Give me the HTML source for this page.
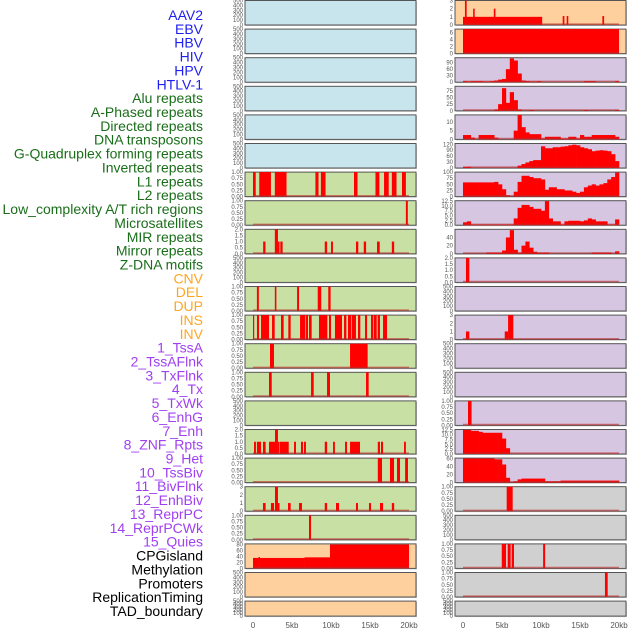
<!DOCTYPE html>
<html><head><meta charset="utf-8">
<style>
html,body{margin:0;padding:0;background:#fff;width:630px;height:630px;overflow:hidden;}
svg{display:block;font-family:"Liberation Sans",sans-serif;}
</style></head>
<body>
<svg id="chart" width="630" height="630" viewBox="0 0 630 630"></svg>
<script>
// ---- labels ----
const labels = ["AAV2","EBV","HBV","HIV","HPV","HTLV-1","Alu repeats","A-Phased repeats","Directed repeats","DNA transposons","G-Quadruplex forming repeats","Inverted repeats","L1 repeats","L2 repeats","Low_complexity A/T rich regions","Microsatellites","MIR repeats","Mirror repeats","Z-DNA motifs","CNV","DEL","DUP","INS","INV","1_TssA","2_TssAFlnk","3_TxFlnk","4_Tx","5_TxWk","6_EnhG","7_Enh","8_ZNF_Rpts","9_Het","10_TssBiv","11_BivFlnk","12_EnhBiv","13_ReprPC","14_ReprPCWk","15_Quies","CPGisland","Methylation","Promoters","ReplicationTiming","TAD_boundary"];
const labelGroups = ["v","v","v","v","v","v","r","r","r","r","r","r","r","r","r","r","r","r","r","s","s","s","s","s","c","c","c","c","c","c","c","c","c","c","c","c","c","c","c","o","o","o","o","o"];
const xTicks = [0,5,10,15,20];
const xTickLabels = ["0","5kb","10kb","15kb","20kb"];

// ---- interval series [startKb, endKb, value] ----
const L6 = [[0,0.35,1],[0.8,2.3,1],[2.8,4.3,1],[8.0,8.4,1],[8.7,9.3,1],[12.95,13.4,1],[15.7,16.2,1],[16.8,17.4,1],[17.8,18.4,1],[19.1,19.6,1]];
const L7 = [[19.6,19.85,1]];
const L8 = [[1.3,1.6,1],[2.8,3.2,2],[3.2,3.4,1],[3.5,3.8,1],[9.2,9.5,1],[10.0,10.25,1],[13.2,13.5,1],[14.2,14.5,1],[15.9,16.25,1],[17.8,18.1,1]];
const L10 = [[0.5,0.75,1],[2.8,3.0,1],[5.65,5.9,1],[8.3,8.75,1],[9.65,9.95,1]];
const L11 = [[0,0.13,1],[0.51,0.77,1],[1.03,2.05,1],[2.44,2.78,1],[3.59,3.93,1],[4.53,4.83,1],[6.03,6.71,1],[6.79,7.05,1],[7.18,7.52,1],[8.46,9.53,1],[9.74,10.0,1],[10.51,11.41,1],[11.67,11.97,1],[12.18,12.61,1],[12.69,13.2,1],[13.46,13.76,1],[14.36,14.62,1],[15.13,15.43,1],[15.51,15.86,1],[15.98,16.28,1],[16.67,17.18,1]];
const L12 = [[2.18,2.69,1],[12.44,14.7,1]];
const L13 = [[2.05,2.4,1],[7.44,7.78,1],[9.49,9.87,1],[14.49,14.83,1]];
const L15 = [[0.13,0.38,1],[0.5,1.03,1],[1.28,1.62,1],[2.05,2.82,1],[2.82,3.2,2],[3.2,3.4,1],[3.46,4.58,1],[5.26,5.51,1],[6.15,6.41,1],[6.54,6.79,1],[9.2,9.5,1],[10.26,10.5,1],[11.8,12.05,1],[12.44,13.72,1],[16.0,16.28,1],[16.41,16.67,1],[19.36,19.6,1]];
const L16 = [[16.0,16.54,1],[17.56,18.08,1],[18.46,18.85,1],[19.5,19.87,1]];
const L17 = [[1.28,1.62,1],[2.3,2.7,1],[2.82,3.2,3],[3.2,3.4,1],[4.49,4.83,1],[5.9,6.28,1],[9.2,9.5,1],[10.64,11.03,1],[13.2,13.46,1],[14.87,15.13,1],[16.28,16.67,1],[17.8,18.1,1]];
const L18 = [[7.18,7.44,1]];
const L19 = [[0,0.7,35],[0.7,0.9,38],[0.9,6.6,35],[6.6,9.87,37],[9.87,20,80]];
const R0 = [[0,10.15,1],[0.25,0.47,3],[1.3,1.5,2],[3.95,4.16,2],[12.78,13.0,1.1],[13.29,13.5,1.1],[17.87,18.09,1.1]];
const R1 = [[0,20,7]];
const R9 = [[0.38,0.81,2]];
const R11 = [[0.38,0.81,1],[5.35,5.78,1],[5.78,6.45,3]];
const R14 = [[0.64,1.1,1]];
const R17 = [[5.6,6.37,1]];
const R19 = [[4.97,5.52,1],[5.73,6.11,1],[6.24,6.54,1],[10.27,10.53,1]];
const R20 = [[18.2,18.55,1]];

// ---- binned profiles (0.5 kb bins, 0..20 kb) ----
const R2 = [5,3,5,5,5,3,3,5,8,12,15,60,110,100,40,8,5,3,3,5,0,0,0,0,0,0,0,0,0,0,0,5,5,5,0,0,0,0,0,5];
const R3 = [0,0,0,0,0,0,0,0,5,25,85,30,70,40,5,0,0,3,0,0,0,0,0,0,0,0,0,0,0,0,0,3,0,0,0,0,0,0,0,3];
const R4 = [2.5,2.5,1,0,2.5,2.5,2.5,2.5,1,0,0,0,0,5,14,7,4,3,3,3,0.5,1.5,1.5,1.5,1.5,0.5,0.5,1.5,1.5,0.5,2.5,1.5,1.5,2.5,2.5,2.5,2.5,2.5,2.5,1.5];
const R5 = [5,6,0,0,0,0,0,0,0,0,0,0,0,0,12,20,28,35,40,40,110,100,100,105,105,108,110,115,118,115,105,100,95,85,88,90,88,85,70,35];
const R6 = [58,58,58,58,58,58,58,58,60,50,30,5,0,20,60,85,85,80,75,75,70,28,38,38,30,30,25,25,20,15,20,38,45,50,45,50,55,70,80,98];
const R7 = [1.5,2,0.3,0.3,0.3,0.3,0.3,0.3,0.3,0.3,0.3,0.3,0.3,3.5,9,10.5,10.5,9.5,8.5,8.5,7.5,12.5,3.5,2,2,0.3,2,2.3,2.3,2.3,2,2.5,3.5,3,2,2,2,0.3,0.3,3];
const R8 = [0,0,0,0,0,0,3,3,3,3,8,40,58,10,3,20,30,15,5,3,3,3,0,0,0,0,0,0,0,0,0,0,0,3,3,3,3,3,0,6];
const R15 = [12.5,12.5,12,12,11.5,11,11,11,11,11,8,3,0,0,0,0,0,0,0,0,0,0,0,0,0,0,0,0,0,0,0,0,0,0,0,0,0,0,0,0];
const R16 = [60,60,60,60,60,60,60,60,58,58,45,12,0,3,8,10,10,10,10,10,10,3,3,3,3,5,5,5,5,5,5,5,5,5,5,5,5,5,5,5];

// ---- tick sets ----
const tEmpty = [0,100,200,300,400,500];
const tFrac = [0,0.25,0.5,0.75,1];
const tFracL = ["0.00","0.25","0.50","0.75","1.00"];
const t2 = [0,0.5,1,1.5,2];
const t2L = ["0.0","0.5","1.0","1.5","2.0"];
const t3 = [0,1,2,3];
const t12 = [0,2.5,5,7.5,10,12.5];
const t12L = ["0.0","2.5","5.0","7.5","10.0","12.5"];

const BG = {b:"#c8e4ec",g:"#c8e0a4",o:"#fed09e",p:"#d6c6e2",y:"#d0d0d0"};
// panel configs: [bg, series, type, ymax, ticks, tickLabels]
const leftPanels = [
 ["b",null,"e",500,tEmpty],["b",null,"e",500,tEmpty],["b",null,"e",500,tEmpty],["b",null,"e",500,tEmpty],["b",null,"e",500,tEmpty],["b",null,"e",500,tEmpty],
 ["g",L6,"i",1,tFrac,tFracL],["g",L7,"i",1,tFrac,tFracL],["g",L8,"i",2,t2,t2L],["g",null,"e",500,tEmpty],
 ["g",L10,"i",1,tFrac,tFracL],["g",L11,"i",1,tFrac,tFracL],["g",L12,"i",1,tFrac,tFracL],["g",L13,"i",1,tFrac,tFracL],["g",null,"e",500,tEmpty],
 ["g",L15,"i",2,t2,t2L],["g",L16,"i",1,tFrac,tFracL],["g",L17,"i",3,t3],["g",L18,"i",1,tFrac,tFracL],
 ["o",L19,"i",82,[0,20,40,60,80]],["o",null,"e",500,tEmpty],["o",null,"e",500,tEmpty]
];
const rightPanels = [
 ["o",R0,"i",3,t3],["o",R1,"i",7,[0,2,4,6]],
 ["p",R2,"h",113,[0,30,60,90]],["p",R3,"h",92,[0,25,50,75]],["p",R4,"h",14,[0,5,10]],["p",R5,"h",124,[0,30,60,90,120]],
 ["p",R6,"h",100,[0,25,50,75,100]],["p",R7,"h",12.7,t12,t12L],["p",R8,"h",60,[0,20,40]],["p",R9,"i",2,t2,t2L],
 ["p",null,"e",500,tEmpty],["p",R11,"i",3,t3],["p",null,"e",500,tEmpty],["p",null,"e",500,tEmpty],["p",R14,"i",1,tFrac,tFracL],
 ["p",R15,"h",12.7,t12,t12L],["p",R16,"h",61,[0,20,40,60]],
 ["y",R17,"i",1,tFrac,tFracL],["y",null,"e",500,tEmpty],["y",R19,"i",1,tFrac,tFracL],["y",R20,"i",1,tFrac,tFracL],["y",null,"e",500,tEmpty]
];

const NS = "http://www.w3.org/2000/svg";
const svg = document.getElementById("chart");
function mk(tag, attrs, parent){const e=document.createElementNS(NS,tag);for(const k in attrs)e.setAttribute(k,attrs[k]);(parent||svg).appendChild(e);return e;}

const COL = {v:"#1f1ff0",r:"#1a6e1a",s:"#ffa621",c:"#a040f0",o:"#000"};
labels.forEach((t,i)=>{
  const e=mk("text",{x:203,y:20+i*13.86,"text-anchor":"end","font-size":"14",fill:COL[labelGroups[i]]});
  e.textContent=t;
  
  
});

function rowTop(i){return 0.5+i*28.6;}
function rowH(i){return i===21?15:24.5;}

function drawCol(panels, px, colName){
  const pw=171, x0=px+8, x1=px+164;
  const xs = kb => x0+(x1-x0)*kb/20;
  panels.forEach((p,i)=>{
    const [bg,ser,type,ymax,ticks,tl]=p;
    const top=rowTop(i), h=rowH(i), bot=top+h;
    const ys = v => bot - h*Math.min(v,ymax)/ymax;
    const g=mk("g",{});
    
    
    mk("rect",{x:px+1,y:top+1,width:pw,height:h,fill:"#999",opacity:0.5},g);
    const r=mk("rect",{x:px,y:top,width:pw,height:h,fill:BG[bg],stroke:"#555","stroke-width":1},g);
    
    
    ticks.forEach((tv,k)=>{
      const e=mk("text",{x:px-2,y:ys(tv)+2,"text-anchor":"end","font-size":"6",fill:"#555"},g);
      e.textContent = tl ? tl[k] : String(tv);
      
      
    });
    if(!ser) return;
    if(type==="i"){
      ser.forEach(s=>{
        const b=mk("rect",{x:xs(s[0]),y:ys(s[2]),width:Math.max(1.2,xs(s[1])-xs(s[0])),height:bot-ys(s[2]),fill:"#ff0000"},g);
        
        
      });
    } else {
      ser.forEach((v,k)=>{
        if(v<=0) return;
        const b=mk("rect",{x:xs(k*0.5),y:ys(v),width:xs(0.5)-xs(0)+0.3,height:bot-ys(v),fill:"#ff0000"},g);
        
        
      });
    }
    const bl=mk("line",{x1:xs(0),x2:xs(20),y1:bot-0.8,y2:bot-0.8,stroke:"rgba(190,40,40,0.6)","stroke-width":1.6},g);
    
    
  });
  xTicks.forEach((t,k)=>{
    const e=mk("text",{x:xs(t),y:628,"text-anchor":"middle","font-size":"8",fill:"#555"});
    e.textContent=xTickLabels[k];
    
    
  });
}
drawCol(leftPanels,245,"left");
drawCol(rightPanels,455,"right");
</script>
</body></html>
